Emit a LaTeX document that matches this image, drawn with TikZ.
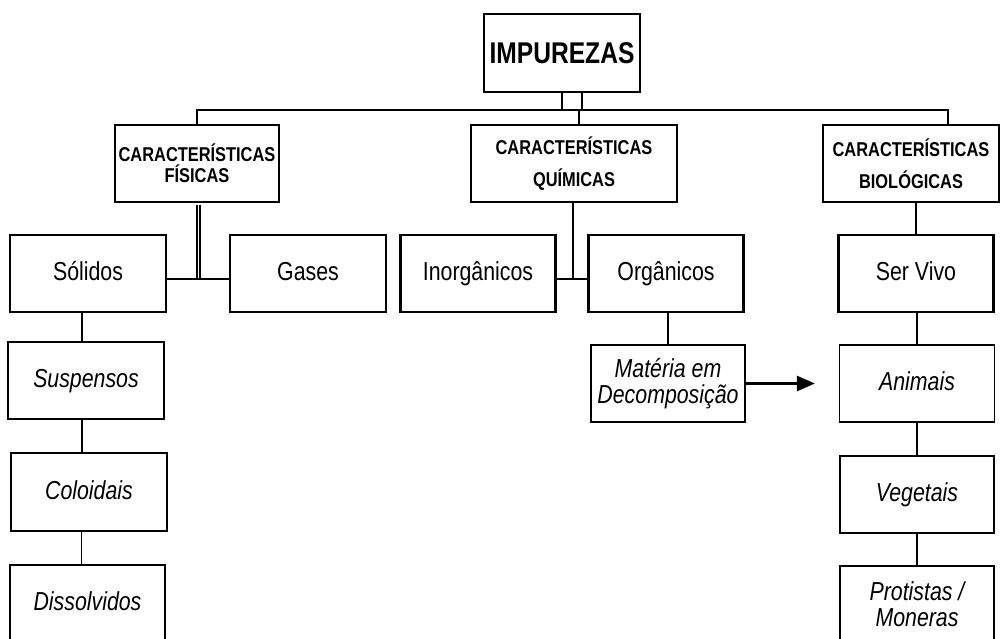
\documentclass[tikz,border=0pt]{standalone}
\usepackage{fontspec}
\setmainfont[FakeStretch=0.82]{Liberation Sans}
\usepackage{tikz}
\usetikzlibrary{arrows.meta}
\newcommand{\titleFont}{\fontsize{30}{32}\selectfont\bfseries}
\newcommand{\itemFont}{\fontsize{26}{26}\selectfont}
\tikzstyle{mainBox}=[draw,rectangle,line width=2.5pt,inner sep=0pt,align=center,minimum width=155pt,minimum height=77pt,font=\itemFont,text height=19pt,text depth=5pt]
\tikzstyle{headBox}=[draw,rectangle,line width=2.5pt,inner sep=0pt,align=center,minimum height=77pt,font=\fontsize{20}{32}\selectfont\bfseries]
\tikzstyle{itemBox}=[mainBox,line width=1.2pt,font=\itemFont\itshape]
\tikzstyle{twoLineBox}=[draw,rectangle,line width=1.2pt,inner sep=0pt,align=center,minimum width=154pt,minimum height=77pt,font=\itemFont\itshape]
\tikzstyle{treeLink}=[line width=2pt]
\tikzstyle{subLink}=[line width=1.5pt]
\tikzstyle{doubleLink}=[double,line width=1.6pt,double distance=0.9pt,shorten <=1.3pt]
\tikzstyle{flowArrow}=[-{Triangle[length=18pt,width=15pt]},line width=2.7pt,shorten >=24pt]

\begin{document}
\begin{tikzpicture}[x=1pt,y=-1pt]
    \useasboundingbox (0,0) rectangle (1001,639);

    \node[headBox, font=\titleFont, minimum width=156pt, minimum height=78pt] (imp) at (562,53) {IMPUREZAS};
    \node[headBox, minimum width=164pt, font=\fontsize{20}{21}\selectfont\bfseries] (fis) at (197,163.5) {CARACTERÍSTICAS\\FÍSICAS};
    \node[headBox, minimum width=206pt] (qui) at (574,163.5) {CARACTERÍSTICAS\\QUÍMICAS};
    \node[headBox, minimum width=176pt] (bio) at (911,163.5) {CARACTERÍSTICAS\\BIOLÓGICAS};

    \node[mainBox, minimum width=156pt] (sol) at (88,273.5) {Sólidos};
    \node[mainBox, minimum width=156pt] (gas) at (308,273.5) {Gases};
    \node[mainBox] (inorg) at (478,273.5) {Inorgânicos};
    \node[mainBox] (org) at (666,273.5) {Orgânicos};
    \node[mainBox] (ser) at (916,273.5) {Ser Vivo};

    \node[itemBox, minimum width=156pt] (susp) at (86,380.5) {Suspensos};
    \node[itemBox, minimum width=156pt, minimum height=78pt] (colo) at (89,492) {Coloidais};
    \node[itemBox] (diss) at (87.5,603.5) {Dissolvidos};
    \node[twoLineBox] (mat) at (668,383.5) {Matéria em\\Decomposição};
    \node[itemBox] (ani) at (917,383.5) {Animais};
    \node[itemBox, minimum width=154pt] (veg) at (917,494.5) {Vegetais};
    \node[twoLineBox] (prot) at (917,604.5) {Protistas /\\Moneras};

    \coordinate (barR) at (948,110);
    \coordinate (fisJ) at (198.5,279);
    \coordinate (quiJ) at (573,279);

    \draw[treeLink] (fis.north) |- (barR) -- (barR |- bio.north);
    \draw[treeLink] (imp.south) -- (imp.south |- barR);
    \draw[treeLink] ([xshift=20pt]imp.south) -- ([xshift=20pt]imp.south |- barR);
    \draw[treeLink] ([xshift=5pt]qui.north) -- ([xshift=5pt]qui.north |- barR);
    \draw[doubleLink] (fis.south -| fisJ) -- (fisJ);
    \draw[treeLink] (sol.east |- fisJ) -- (gas.west |- fisJ);
    \draw[treeLink] (qui.south -| quiJ) -- (quiJ);
    \draw[treeLink] (inorg.east |- quiJ) -- (org.west |- quiJ);
    \draw[treeLink] (ser.north |- bio.south) -- (ser.north);

    \draw[subLink] ([xshift=-4pt]susp.north |- sol.south) -- ([xshift=-4pt]susp.north);
    \draw[subLink] ([xshift=-7pt]colo.north |- susp.south) -- ([xshift=-7pt]colo.north);
    \draw[subLink] ([xshift=-6pt]diss.north |- colo.south) -- ([xshift=-6pt]diss.north);
    \draw[subLink] (org.south -| mat.north) -- (mat.north);
    \draw[subLink] (ser.south -| ani.north) -- (ani.north);
    \draw[subLink] (ani.south) -- (veg.north);
    \draw[subLink] (veg.south) -- (prot.north);
    \draw[flowArrow] (mat.east) -- (ani.west);

\end{tikzpicture}
\end{document}
